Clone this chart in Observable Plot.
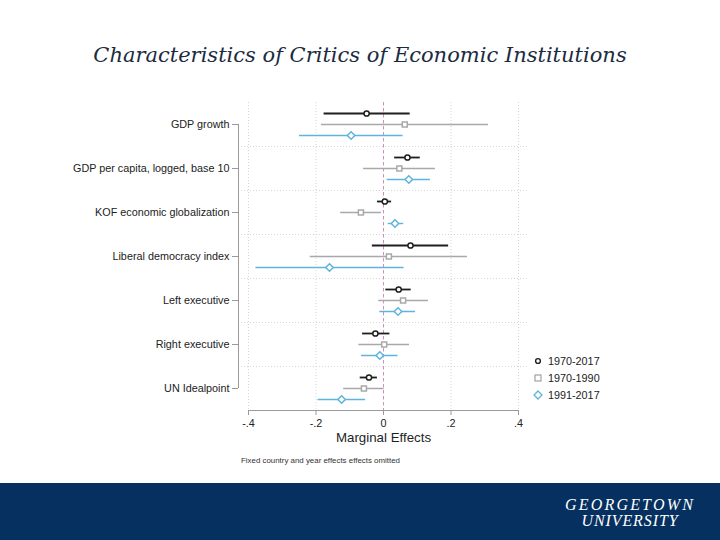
<!DOCTYPE html>
<html>
<head>
<meta charset="utf-8">
<script src="https://cdn.jsdelivr.net/npm/d3@7"></script>
<script src="https://cdn.jsdelivr.net/npm/@observablehq/plot@0.6"></script>
<style>
  html, body { margin: 0; padding: 0; background: #fff; }
  #page { position: relative; width: 720px; height: 540px; overflow: hidden; background: #fff; }
  #title { position: absolute; left: 0; top: 42px; width: 720px; text-align: center;
    font-family: "DejaVu Serif", serif; font-style: italic; font-size: 21px; line-height: 26px; color: #1c2b3f; }
  #chart { position: absolute; left: 0; top: 0; }
  #legend { position: absolute; left: 532px; top: 352px; font-family: "Liberation Sans", Arial, sans-serif;
    font-size: 10.8px; color: #222; }
  #legend .row { height: 17px; display: flex; align-items: center; }
  #legend svg { margin-right: 4px; }
  #footer { position: absolute; left: 0; top: 483px; width: 720px; height: 57px; background: #06305f; }
  .logo { position: absolute; left: 555px; width: 150px; text-align: center; color: #fff;
    font-family: "Liberation Serif", serif; font-style: italic; font-size: 16px; line-height: 15px; }
  #logo1 { top: 497px; letter-spacing: 2.2px; }
  #logo2 { top: 512.5px; letter-spacing: 0.9px; }
</style>
</head>
<body>
<div id="page">
  <div id="title">Characteristics of Critics of Economic Institutions</div>
  <div id="chart"></div>
  <div id="legend"></div>
  <div id="footer"></div>
  <div class="logo" id="logo1">GEORGETOWN</div>
  <div class="logo" id="logo2">UNIVERSITY</div>
</div>
<script>
const categories = ["GDP growth", "GDP per capita, logged, base 10", "KOF economic globalization",
  "Liberal democracy index", "Left executive", "Right executive", "UN Idealpoint"];
const seriesNames = ["1970-2017", "1970-1990", "1991-2017"];

const est_1970_2017 = [-0.050, 0.071, 0.004, 0.080, 0.045, -0.024, -0.043];
const lo_1970_2017  = [-0.176, 0.033, -0.018, -0.033, 0.007, -0.062, -0.069];
const hi_1970_2017  = [0.079, 0.109, 0.024, 0.193, 0.082, 0.019, -0.018];

const est_1970_1990 = [0.063, 0.047, -0.067, 0.016, 0.058, 0.002, -0.058];
const lo_1970_1990  = [-0.184, -0.059, -0.127, -0.217, -0.014, -0.073, -0.118];
const hi_1970_1990  = [0.311, 0.154, -0.006, 0.249, 0.133, 0.077, 0.002];

const est_1991_2017 = [-0.096, 0.075, 0.034, -0.160, 0.043, -0.011, -0.124];
const lo_1991_2017  = [-0.249, 0.011, 0.014, -0.378, -0.011, -0.065, -0.194];
const hi_1991_2017  = [0.058, 0.139, 0.060, 0.061, 0.095, 0.043, -0.053];

const xTicks = [-0.4, -0.2, 0, 0.2, 0.4];
const xLabel = "Marginal Effects";
const note = "Fixed country and year effects effects omitted";

const seriesStyle = [
  {name: seriesNames[0], est: est_1970_2017, lo: lo_1970_2017, hi: hi_1970_2017, color: "#1e1e1e", sw: 1.8, symbol: "circle", r: 2.6, dy: -11},
  {name: seriesNames[1], est: est_1970_1990, lo: lo_1970_1990, hi: hi_1970_1990, color: "#a9a9a9", sw: 1.4, symbol: "square2", r: 3.2, dy: 0},
  {name: seriesNames[2], est: est_1991_2017, lo: lo_1991_2017, hi: hi_1991_2017, color: "#5fb4de", sw: 1.4, symbol: "diamond2", r: 3.4, dy: 11}
];

const fmt = d => d === 0 ? "0" : d3.format(".1f")(d).replace("\u2212", "-").replace("0.", ".");
const sans = "Liberation Sans, Arial, sans-serif";

const marks = [
  Plot.ruleX(xTicks, {stroke: "#d6d6d6", strokeDasharray: "1,2"}),
  Plot.ruleY(categories.slice(1), {dy: -22, x1: -0.4207, x2: 0.4267, stroke: "#d6d6d6", strokeDasharray: "1,2"}),
  Plot.ruleX([0], {stroke: "#d88cbe", strokeDasharray: "3,3", strokeWidth: 1}),
  Plot.ruleX([{x: -0.4296, y1: categories[0], y2: categories[categories.length - 1]}],
    {x: "x", y1: "y1", y2: "y2", stroke: "#9a9a9a"}),
  Plot.ruleY([categories[categories.length - 1]], {dy: 22, stroke: "#9a9a9a"}),
  Plot.axisY({tickSize: 6, tickPadding: 3, dx: -10, fontSize: 10.8, stroke: "#9a9a9a", color: "#222", label: null,
    fontFamily: sans}),
  Plot.axisX({ticks: xTicks, tickFormat: fmt, tickSize: 5, tickPadding: 4, fontSize: 10.8, stroke: "#9a9a9a", color: "#222", label: null,
    fontFamily: sans}),
  Plot.text([xLabel], {frameAnchor: "bottom", dy: 31, fontSize: 13.3, fill: "#1e1e1e", fontFamily: sans}),
  Plot.text([note], {frameAnchor: "bottom-left", dx: -7.5, dy: 52, textAnchor: "start", fontSize: 7.9, fill: "#333", fontFamily: sans})
];

for (const s of seriesStyle) {
  const rows = categories.map((c, i) => ({category: c, est: s.est[i], lo: s.lo[i], hi: s.hi[i]}));
  marks.push(Plot.ruleY(rows, {y: "category", x1: "lo", x2: "hi", dy: s.dy, stroke: s.color, strokeWidth: s.sw}));
  marks.push(Plot.dot(rows, {y: "category", x: "est", dy: s.dy, symbol: s.symbol, r: s.r, stroke: s.color, fill: "white", strokeWidth: 1.5}));
}

const chart = Plot.plot({
  width: 720,
  height: 480,
  marginLeft: 248,
  marginRight: 202,
  marginTop: 102,
  marginBottom: 70,
  style: {background: "transparent", fontFamily: sans},
  x: {domain: [-0.4, 0.4]},
  y: {type: "point", domain: categories, padding: 0.5},
  marks
});
document.getElementById("chart").appendChild(chart);

// legend
const legend = document.getElementById("legend");
const symbolPaths = {
  circle: '<circle cx="6" cy="6" r="2.4" fill="white" stroke-width="1.4"/>',
  square2: '<rect x="3" y="3" width="6" height="6" fill="white" stroke-width="1.3"/>',
  diamond2: '<path d="M6,2 L10,6 L6,10 L2,6 Z" fill="white" stroke-width="1.3"/>'
};
for (const s of seriesStyle) {
  const row = document.createElement("div");
  row.className = "row";
  row.innerHTML = `<svg width="12" height="12" stroke="${s.color}">${symbolPaths[s.symbol]}</svg><span>${s.name}</span>`;
  legend.appendChild(row);
}
</script>
</body>
</html>
